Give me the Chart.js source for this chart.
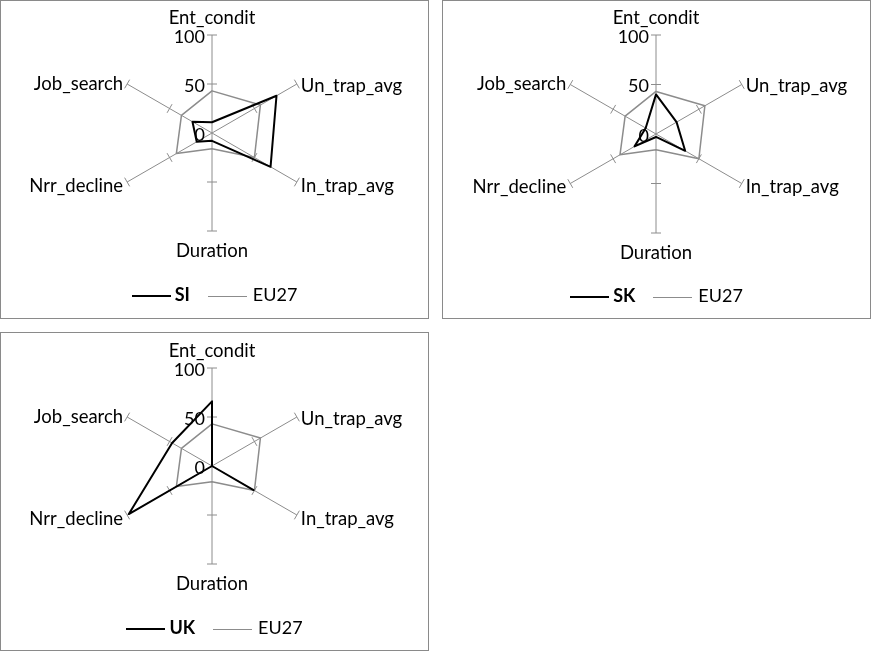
<!DOCTYPE html>
<html>
<head>
<meta charset="utf-8">
<script src="https://cdn.jsdelivr.net/npm/chart.js@4.4.1/dist/chart.umd.min.js"></script>
<style>
  body { margin: 0; background: #fff; width: 872px; height: 652px; position: relative; overflow: hidden; font-family: Lato, sans-serif; }
  .panel { position: absolute; }
  .panel canvas { position: absolute; left: 0; top: 0; }
  .frame { position: absolute; left: 0; top: 0; right: 0; bottom: 0; border: 1px solid #8a8a8a; pointer-events: none; }
  .legend { position: absolute; left: 0; width: 100%; text-align: center; font-size: 18px; line-height: 20px; color: #000; white-space: nowrap; }
  .legend .sw { display: inline-block; width: 39px; vertical-align: middle; margin-right: 4px; }
  .legend .k { border-top: 2px solid #000; }
  .legend .g { border-top: 1.5px solid #8c8c8c; margin-left: 18px; margin-right: 6px; }
</style>
</head>
<body>

<div class="panel" id="p1" style="left:0px;top:0px;width:429px;height:319px">
  <canvas id="c1"></canvas>
  <div class="legend" style="top:284px"><span class="sw k"></span><b>SI</b><span class="sw g"></span><span>EU27</span></div>
  <div class="frame"></div>
</div>
<div class="panel" id="p2" style="left:442px;top:0px;width:429px;height:319px">
  <canvas id="c2"></canvas>
  <div class="legend" style="top:285px"><span class="sw k"></span><b>SK</b><span class="sw g"></span><span>EU27</span></div>
  <div class="frame"></div>
</div>
<div class="panel" id="p3" style="left:0px;top:332px;width:429px;height:319px">
  <canvas id="c3"></canvas>
  <div class="legend" style="top:285px"><span class="sw k"></span><b>UK</b><span class="sw g"></span><span>EU27</span></div>
  <div class="frame"></div>
</div>

<script>
// axes, clockwise from the top
var categories = ["Ent_condit", "Un_trap_avg", "In_trap_avg", "Duration", "Nrr_decline", "Job_search"];
var tickValues = [0, 50, 100];

var eu27 = [43, 57, 50, 16, 42, 36];
var si   = [11, 76, 69, 8, 18, 23];
var sk   = [40, 24, 34, 3, 25, 12];
var uk   = [66, 0, 49, 0, 98, 47];

var axisGray = "#8c8c8c";
var fontFam = "Lato, sans-serif";

// excel style: tick marks across each spoke, value labels left of the top spoke, category names at the ends
var spokeDeco = {
  id: "spokeDeco",
  beforeDatasetsDraw: function (chart) {
    var s = chart.scales.r;
    var ctx = chart.ctx;
    var n = chart.data.labels.length;
    ctx.save();
    ctx.strokeStyle = axisGray;
    ctx.lineWidth = 1;
    for (var i = 0; i < n; i++) {
      var a = s.getIndexAngle(i);
      var px = Math.cos(a), py = Math.sin(a);
      tickValues.forEach(function (v) {
        if (v === 0) return;
        var p = s.getPointPositionForValue(i, v);
        ctx.beginPath();
        ctx.moveTo(p.x - px * 5, p.y - py * 5);
        ctx.lineTo(p.x + px * 5, p.y + py * 5);
        ctx.stroke();
      });
    }

    ctx.fillStyle = "#000";
    ctx.font = "18px " + fontFam;
    ctx.textAlign = "right";
    ctx.textBaseline = "middle";
    tickValues.forEach(function (v) {
      var p = s.getPointPositionForValue(0, v);
      ctx.fillText(String(v), s.xCenter - 7, p.y + 2);
    });

    ctx.font = "18.5px " + fontFam;
    for (var j = 0; j < n; j++) {
      var e = s.getPointPositionForValue(j, s.max);
      var deg = Math.round(s.getIndexAngle(j) * 180 / Math.PI);
      var x = e.x, y = e.y;
      if (deg === 0) { ctx.textAlign = "center"; y -= 17; }
      else if (deg === 180) { ctx.textAlign = "center"; y += 20; }
      else if (deg < 180) { ctx.textAlign = "left"; x += 4; y += deg < 90 ? 2 : 4; }
      else { ctx.textAlign = "right"; x -= 4; y += deg > 270 ? 0 : 4; }
      ctx.fillText(chart.data.labels[j], x, y);
    }
    ctx.restore();
  }
};

function makeRadar(id, name, values, cx, cy, R) {
  var W = 429, H = 319;
  var cv = document.getElementById(id);
  cv.width = W; cv.height = H;
  cv.style.width = W + "px"; cv.style.height = H + "px";
  return new Chart(cv, {
    type: "radar",
    data: {
      labels: categories,
      datasets: [
        { label: name, data: values, borderColor: "#000", borderWidth: 2, fill: false, pointRadius: 0, borderJoinStyle: "round" },
        { label: "EU27", data: eu27, borderColor: axisGray, borderWidth: 1.5, fill: false, pointRadius: 0, borderJoinStyle: "round" }
      ]
    },
    options: {
      responsive: false,
      animation: false,
      events: [],
      layout: { padding: { left: cx - R, top: cy - R, right: W - cx - R, bottom: H - cy - R } },
      plugins: { legend: { display: false }, tooltip: { enabled: false } },
      elements: { line: { tension: 0 } },
      scales: {
        r: {
          min: 0, max: 100,
          ticks: { display: false, stepSize: 50 },
          grid: { display: false },
          angleLines: { display: true, color: axisGray, lineWidth: 1 },
          pointLabels: { display: false }
        }
      }
    },
    plugins: [spokeDeco]
  });
}

makeRadar("c1", "SI", si, 212, 133, 98);
makeRadar("c2", "SK", sk, 214, 134, 99);
makeRadar("c3", "UK", uk, 212, 134, 98);
</script>
</body>
</html>
